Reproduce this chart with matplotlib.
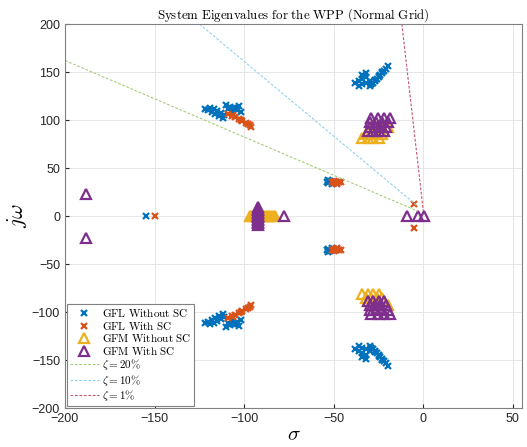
import matplotlib.pyplot as plt, numpy as np

plt.rcParams['mathtext.fontset'] = 'cm'
plt.rcParams['font.family'] = ['Liberation Sans', 'DejaVu Sans']

# eigenvalues in the upper half plane (conjugates are mirrored below)
gfl_sigma = [-122, -120, -118, -116, -114, -112, -119, -117, -115, -113, -111,
             -110, -108, -106, -104, -102, -109, -107, -105, -103,
             -30, -29, -28, -27, -26, -25, -24, -23, -22, -21, -20, -29, -27, -25, -23,
             -38, -36, -34, -32, -36, -34, -32, -30, -34, -32,
             -54, -53, -52, -51, -50, -49, -53, -51]
gfl_omega = [111, 110, 108, 106, 104, 102, 113, 111, 109, 107, 105,
             116, 114, 112, 110, 108, 111, 109, 113, 115,
             135, 137, 139, 141, 143, 145, 147, 149, 151, 153, 156, 138, 142, 146, 150,
             139, 141, 143, 145, 135, 137, 139, 141, 147, 149,
             35, 34, 36, 35, 34, 35, 37, 33]
gfl_sc_sigma = [-109, -107, -105, -103, -101, -99, -97, -96, -106, -102, -98,
                -51, -50, -49, -48, -47, -46, -50, -48, -5]
gfl_sc_omega = [106, 104, 103, 101, 99, 97, 95, 93, 105, 100, 96,
                35, 34, 35, 34, 35, 35, 36, 33, 12]
gfm_sigma = [-34, -31, -28, -25, -32, -29, -26, -23, -31, -28, -25, -22, -29, -26, -23, -20]
gfm_omega = [81, 81, 81, 81, 85, 85, 85, 85, 89, 89, 89, 89, 93, 93, 93, 93]
gfm_sc_sigma = [-31, -28, -25, -22, -30, -27, -24, -21, -29.5, -26.5, -23, -19.5,
                -29, -25.5, -22, -18.5, -188]
gfm_sc_omega = [89, 89, 89, 89, 93, 93, 93, 93, 98, 98, 98, 98, 102, 102, 102, 102, 23]

# real axis eigenvalues
gfl_real = [-155]
gfl_sc_real = [-150]
gfm_real = [-97, -96, -95, -94, -93, -92, -91, -90, -89, -88, -87, -86, -85, -84, -83]
gfm_sc_real_sigma = [-92, -92, -92, -92, -92, -92, -92, -92, -92, -92, -92, -92, -92,
                     -77.5, -9, -3, 0.5]
gfm_sc_real_omega = [9, 7.5, 6, 4.5, 3, 1.5, 0, -1.5, -3, -4.5, -6, -7.5, -9,
                     0, 0, 0, 0]

# damping ratio lines (start, end)
zeta_labels = [r'$\zeta = 20\%$', r'$\zeta = 10\%$', r'$\zeta = 1\%$']
zeta_sigma = [[-200, -3], [-125, -3], [-12, 0]]
zeta_omega = [[162, 5], [200, 10], [200, 5]]
zeta_colors = ['#a9cc7c', '#8fd3ee', '#c2576e']

blue, orange, yellow, purple = '#0072BD', '#D95319', '#EDB120', '#7E2F8E'

fig = plt.figure(figsize=(5.27, 4.47), dpi=100)
ax = fig.add_axes([0.1233, 0.0872, 0.867, 0.8591])

def both(s, w):
    s = np.array(s, float); w = np.array(w, float)
    return np.concatenate([s, s]), np.concatenate([w, -w])

s, w = both(gfl_sigma, gfl_omega)
s = np.concatenate([s, gfl_real]); w = np.concatenate([w, np.zeros(len(gfl_real))])
ax.plot(s, w, 'x', color=blue, ms=5, mew=1.6, label=r'$\mathrm{GFL\ Without\ SC}$')
s, w = both(gfl_sc_sigma, gfl_sc_omega)
s = np.concatenate([s, gfl_sc_real]); w = np.concatenate([w, np.zeros(len(gfl_sc_real))])
ax.plot(s, w, 'x', color=orange, ms=5, mew=1.6, label=r'$\mathrm{GFL\ With\ SC}$')
s, w = both(gfm_sigma, gfm_omega)
s = np.concatenate([s, gfm_real]); w = np.concatenate([w, np.zeros(len(gfm_real))])
ax.plot(s, w, '^', color=yellow, mfc='none', ms=7, mew=1.6, label=r'$\mathrm{GFM\ Without\ SC}$')
s, w = both(gfm_sc_sigma, gfm_sc_omega)
s = np.concatenate([s, gfm_sc_real_sigma]); w = np.concatenate([w, gfm_sc_real_omega])
ax.plot(s, w, '^', color=purple, mfc='none', ms=7, mew=1.6, label=r'$\mathrm{GFM\ With\ SC}$')

for lab, xs, ys, c in zip(zeta_labels, zeta_sigma, zeta_omega, zeta_colors):
    ax.plot(xs, ys, '--', color=c, lw=0.8, dashes=(2.5, 1.5), label=lab)

ax.set_xlim(-200, 55)
ax.set_ylim(-200, 200)
ax.set_xticks(np.arange(-200, 51, 50))
ax.set_yticks(np.arange(-200, 201, 50))
ax.grid(True, color='#e6e6e6', lw=0.7)
ax.set_axisbelow(True)
ax.tick_params(direction='in', length=3, labelsize=9, colors='#262626')
for sp in ax.spines.values():
    sp.set_color('#808080')
    sp.set_linewidth(0.8)

ax.set_title(r'$\mathrm{System\ Eigenvalues\ for\ the\ WPP\ (Normal\ Grid)}$', fontsize=9.3, pad=4)
ax.set_xlabel(r'$\sigma$', fontsize=15, labelpad=0)
ax.set_ylabel(r'$j\omega$', fontsize=16, labelpad=2)

leg = ax.legend(loc='lower left', bbox_to_anchor=(0.005, 0.005), fontsize=8,
                fancybox=False, framealpha=1, edgecolor='#808080',
                borderpad=0.25, labelspacing=0.05, handlelength=2.6, handletextpad=0.3,
                borderaxespad=0)
leg.get_frame().set_linewidth(0.8)

fig.savefig('out.png', dpi=100)
